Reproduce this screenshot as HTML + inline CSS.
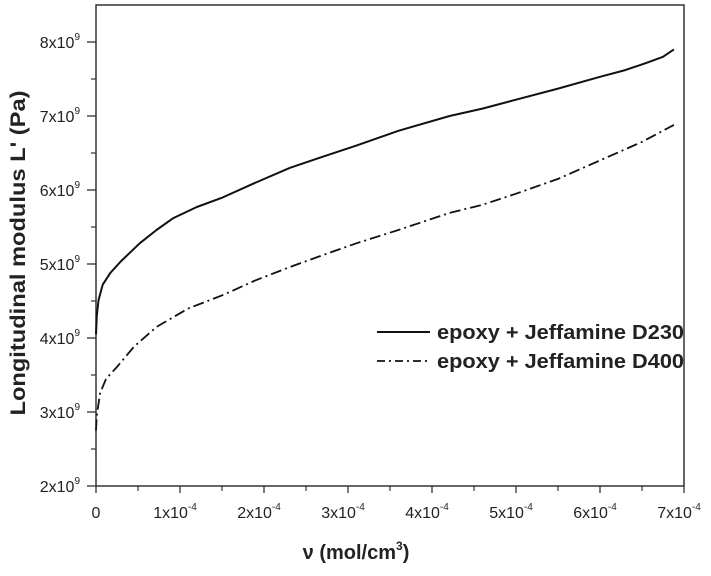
<!DOCTYPE html>
<html><head><meta charset="utf-8"><style>
body{margin:0;background:#fff;width:711px;height:571px;overflow:hidden}
text{font-family:"Liberation Sans",Arial,sans-serif;fill:#222}
</style></head><body>
<svg id="chart" width="711" height="571" xmlns="http://www.w3.org/2000/svg"></svg>
<script>
const xTicks=[0,1,2,3,4,5,6,7];
const xTickLabels=["0","1x10","2x10","3x10","4x10","5x10","6x10","7x10"];
const yTicks=[2,3,4,5,6,7,8];
const d230X=[0,0.01,0.03,0.08,0.17,0.3,0.52,0.72,0.92,1.2,1.51,1.9,2.31,2.7,3.1,3.6,4.21,4.6,5,5.5,6,6.3,6.56,6.75,6.88];
const d230Y=[4.05,4.3,4.51,4.72,4.88,5.04,5.28,5.46,5.62,5.77,5.9,6.1,6.3,6.45,6.6,6.8,7.0,7.1,7.22,7.37,7.53,7.62,7.72,7.8,7.9];
const d400X=[0,0.01,0.05,0.12,0.25,0.45,0.72,1.1,1.51,1.9,2.31,2.7,3.1,3.6,4.21,4.6,5,5.5,6,6.5,6.88];
const d400Y=[2.75,2.96,3.26,3.45,3.61,3.88,4.15,4.4,4.58,4.78,4.96,5.12,5.28,5.46,5.69,5.8,5.95,6.15,6.4,6.65,6.88];
const NS="http://www.w3.org/2000/svg";
const svg=document.getElementById('chart');
const X0=96,X1=684,Y0=486,YT=5;
const sx=v=>X0+(v/7)*(X1-X0);
const sy=v=>Y0-(v-2)*74;
function mk(t,a,p){const e=document.createElementNS(NS,t);for(const k in a)e.setAttribute(k,a[k]);(p||svg).appendChild(e);return e;}
const frame=mk('rect',{x:X0,y:YT,width:X1-X0,height:Y0-YT,fill:'none',stroke:'#333','stroke-width':1.5});


for(let i=0;i<yTicks.length;i++){
  const y=sy(yTicks[i]);
  const t=mk('line',{x1:X0-9,x2:X0,y1:y,y2:y,stroke:'#333','stroke-width':1.3});
  
  
  if(i<yTicks.length-1){const ym=sy(yTicks[i]+0.5);mk('line',{x1:X0-5,x2:X0,y1:ym,y2:ym,stroke:'#333','stroke-width':1.2});}
  const l=mk('text',{x:X0-16,y:y+6,'text-anchor':'end','font-size':16});
  
  
  l.textContent=yTicks[i]+'x10';
  const s=mk('tspan',{'font-size':10,dy:-8},l);s.textContent='9';
}
for(let i=0;i<xTicks.length;i++){
  const x=sx(xTicks[i]);
  const t=mk('line',{x1:x,x2:x,y1:Y0,y2:Y0+7,stroke:'#333','stroke-width':1.3});
  
  
  if(i<xTicks.length-1){const xm=sx(xTicks[i]+0.5);mk('line',{x1:xm,x2:xm,y1:Y0,y2:Y0+5,stroke:'#333','stroke-width':1.2});}
  const l=mk('text',{x:x+(i?-5:0),y:Y0+32,'text-anchor':'middle','font-size':16});
  
  
  l.textContent=xTickLabels[i];
  if(i){const s=mk('tspan',{'font-size':10,dy:-8},l);s.textContent='-4';}
}
function path(xs,ys){return xs.map((v,i)=>(i?'L':'M')+sx(v).toFixed(1)+','+sy(ys[i]).toFixed(1)).join('');}
const l1=mk('path',{d:path(d230X,d230Y),fill:'none',stroke:'#111','stroke-width':2,'stroke-linejoin':'round'});


const l2=mk('path',{d:path(d400X,d400Y),fill:'none',stroke:'#111','stroke-width':1.8,'stroke-dasharray':'11,4,2,4'});


const g1=mk('line',{x1:377,x2:430,y1:332,y2:332,stroke:'#111','stroke-width':2});


const t1=mk('text',{x:437,y:339,'font-size':20,'font-weight':'bold',textLength:247,lengthAdjust:'spacingAndGlyphs'});


t1.textContent='epoxy + Jeffamine D230';
const g2=mk('line',{x1:377,x2:430,y1:361,y2:361,stroke:'#111','stroke-width':1.8,'stroke-dasharray':'8,4,2,4'});


const t2=mk('text',{x:437,y:368,'font-size':20,'font-weight':'bold',textLength:247,lengthAdjust:'spacingAndGlyphs'});


t2.textContent='epoxy + Jeffamine D400';
const xt=mk('text',{x:356,y:559,'text-anchor':'middle','font-size':20,'font-weight':'bold'});


xt.textContent='ν  (mol/cm';
const sp=mk('tspan',{'font-size':12,dy:-9},xt);sp.textContent='3';
const sp2=mk('tspan',{dy:9},xt);sp2.textContent=')';
const yt=mk('text',{x:0,y:0,'text-anchor':'middle','font-size':21,'font-weight':'bold',textLength:325,lengthAdjust:'spacingAndGlyphs',transform:'translate(25,253) rotate(-90)'});


yt.textContent="Longitudinal modulus L' (Pa)";
</script>
</body></html>
